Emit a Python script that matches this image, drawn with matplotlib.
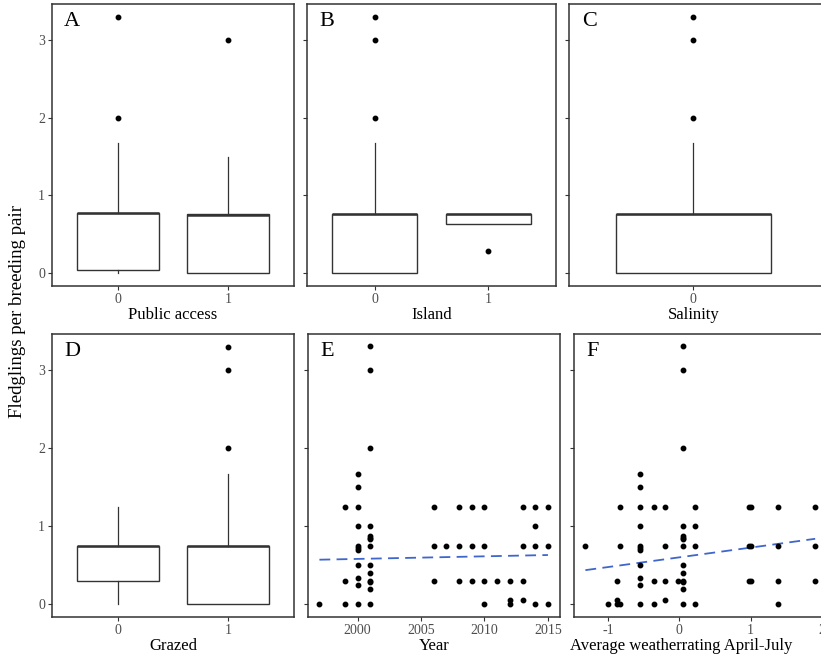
import matplotlib
matplotlib.use("Agg")
import matplotlib.pyplot as plt
import numpy as np

plt.rcParams['font.family'] = ['Liberation Serif', 'DejaVu Serif']
plt.rcParams['axes.unicode_minus'] = False

# ---------------- data ----------------
# Boxplot summary statistics
public_access_cats = ["0", "1"]
public_access_q1 = [0.04, 0.0]
public_access_med = [0.77, 0.75]
public_access_q3 = [0.77, 0.76]
public_access_lo = [0.0, 0.0]
public_access_hi = [1.67, 1.5]
public_access_out = [[2.0, 3.3], [3.0]]

island_cats = ["0", "1"]
island_q1 = [0.0, 0.63]
island_med = [0.76, 0.76]
island_q3 = [0.76, 0.76]
island_lo = [0.0, 0.63]
island_hi = [1.67, 0.76]
island_out = [[2.0, 3.0, 3.3], [0.29]]

salinity_cats = ["0"]
salinity_q1 = [0.0]
salinity_med = [0.76]
salinity_q3 = [0.76]
salinity_lo = [0.0]
salinity_hi = [1.67]
salinity_out = [[2.0, 3.0, 3.3]]

grazed_cats = ["0", "1"]
grazed_q1 = [0.30, 0.0]
grazed_med = [0.75, 0.75]
grazed_q3 = [0.75, 0.75]
grazed_lo = [0.0, 0.0]
grazed_hi = [1.25, 1.67]
grazed_out = [[], [2.0, 3.0, 3.3]]

# Year scatter
year_x = [1997,
          1999, 1999, 1999,
          2000, 2000, 2000, 2000, 2000, 2000, 2000, 2000, 2000, 2000, 2000,
          2001, 2001, 2001, 2001, 2001, 2001, 2001, 2001, 2001, 2001, 2001, 2001, 2001, 2001,
          2006, 2006, 2006,
          2007,
          2008, 2008, 2008,
          2009, 2009, 2009,
          2010, 2010, 2010, 2010,
          2011,
          2012, 2012, 2012,
          2013, 2013, 2013, 2013,
          2014, 2014, 2014, 2014,
          2015, 2015, 2015]
year_y = [0.0,
          1.25, 0.30, 0.0,
          1.675, 1.5, 1.25, 1.0, 0.75, 0.72, 0.70, 0.5, 0.33, 0.24, 0.0,
          3.31, 3.0, 2.0, 1.0, 0.87, 0.85, 0.83, 0.75, 0.5, 0.4, 0.3, 0.28, 0.2, 0.0,
          1.25, 0.75, 0.30,
          0.75,
          1.25, 0.75, 0.30,
          1.25, 0.75, 0.30,
          1.25, 0.75, 0.30, 0.0,
          0.30,
          0.30, 0.05, 0.0,
          1.25, 0.75, 0.30, 0.05,
          1.25, 1.0, 0.75, 0.0,
          1.25, 0.75, 0.0]
year_trend_x = [1997, 2015]
year_trend_y = [0.57, 0.63]

# Weather scatter
weather_x = [-1.32,
             -1.0,
             -0.87, -0.87, -0.87,
             -0.83, -0.83, -0.83,
             -0.55, -0.55, -0.55, -0.55, -0.55, -0.55, -0.55, -0.55, -0.55, -0.55, -0.55,
             -0.35, -0.35, -0.35,
             -0.20, -0.20, -0.20, -0.20,
             -0.015,
             0.05, 0.05, 0.05, 0.05, 0.05, 0.05, 0.05, 0.05, 0.05, 0.05, 0.05, 0.05, 0.05, 0.05,
             0.215, 0.215, 0.215, 0.215,
             0.98, 1.0, 0.98, 1.0, 0.98, 1.0,
             1.386, 1.386, 1.386, 1.386,
             1.906, 1.906, 1.906]
weather_y = [0.75,
             0.0,
             0.30, 0.05, 0.0,
             1.25, 0.75, 0.0,
             1.675, 1.5, 1.25, 1.0, 0.75, 0.72, 0.70, 0.5, 0.33, 0.24, 0.0,
             1.25, 0.30, 0.0,
             1.25, 0.75, 0.30, 0.05,
             0.30,
             3.31, 3.0, 2.0, 1.0, 0.87, 0.85, 0.83, 0.75, 0.5, 0.4, 0.3, 0.28, 0.2, 0.0,
             1.25, 1.0, 0.75, 0.0,
             1.25, 1.25, 0.75, 0.75, 0.30, 0.30,
             1.25, 0.75, 0.30, 0.0,
             1.25, 0.75, 0.30]
weather_trend_x = [-1.32, 1.906]
weather_trend_y = [0.436, 0.838]

y_ticks = [0, 1, 2, 3]

# ---------------- figure ----------------
W, H = 821, 656
fig = plt.figure(figsize=(W / 100, H / 100), dpi=100)

FRAME = '#333333'
TICKC = '#4D4D4D'
YLIM = (-0.165, 3.465)
MS = 3.2


def px_axes(x0, y0, x1, y1):
    return fig.add_axes([x0 / W, 1 - y1 / H, (x1 - x0) / W, (y1 - y0) / H])


def style(ax, letter, xlabel, show_ylabels):
    for s in ax.spines.values():
        s.set_color(FRAME)
        s.set_linewidth(1.1)
    ax.set_ylim(*YLIM)
    ax.set_yticks(y_ticks)
    ax.tick_params(axis='both', colors=FRAME, length=3, width=0.8,
                   labelcolor=TICKC, labelsize=10, pad=2)
    if not show_ylabels:
        ax.set_yticklabels([])
    ax.set_xlabel(xlabel, fontsize=12, labelpad=1)
    ax.text(0.05, 0.972, letter, transform=ax.transAxes, fontsize=16,
            va='top', ha='left')


def boxpanel(ax, cats, q1, med, q3, lo, hi, out, xlim):
    stats = []
    for i in range(len(cats)):
        stats.append(dict(q1=q1[i], med=med[i], q3=q3[i], whislo=lo[i],
                          whishi=hi[i], fliers=out[i], label=cats[i]))
    pos = list(range(1, len(cats) + 1))
    ax.bxp(stats, positions=pos, widths=0.75, showcaps=False,
           patch_artist=True,
           boxprops=dict(facecolor='white', edgecolor=FRAME, linewidth=1.0),
           whiskerprops=dict(color=FRAME, linewidth=0.9),
           medianprops=dict(color=FRAME, linewidth=1.8),
           flierprops=dict(marker='o', markerfacecolor='black',
                           markeredgecolor='black', markersize=MS))
    ax.set_xlim(*xlim)
    ax.set_xticks(pos)
    ax.set_xticklabels(cats)


axA = px_axes(52, 4, 294, 286)
boxpanel(axA, public_access_cats, public_access_q1, public_access_med,
         public_access_q3, public_access_lo, public_access_hi,
         public_access_out, (0.4, 2.6))
style(axA, 'A', 'Public access', True)

axB = px_axes(307, 4, 556, 286)
boxpanel(axB, island_cats, island_q1, island_med, island_q3, island_lo,
         island_hi, island_out, (0.4, 2.6))
style(axB, 'B', 'Island', False)

axC = px_axes(569, 4, 823, 286)
boxpanel(axC, salinity_cats, salinity_q1, salinity_med, salinity_q3,
         salinity_lo, salinity_hi, salinity_out, (0.4, 1.629))
style(axC, 'C', 'Salinity', False)
axC.xaxis.label.set_x(0.49)

axD = px_axes(52, 334, 294, 617)
boxpanel(axD, grazed_cats, grazed_q1, grazed_med, grazed_q3, grazed_lo,
         grazed_hi, grazed_out, (0.4, 2.6))
style(axD, 'D', 'Grazed', True)

axE = px_axes(308, 334, 560, 617)
axE.plot(year_x, year_y, 'o', color='black', markersize=MS, zorder=3)
axE.plot(year_trend_x, year_trend_y, color='#3F66CC', linewidth=1.3,
         dashes=(6, 3.5), zorder=2)
axE.set_xlim(1996.1, 2015.95)
axE.set_xticks([2000, 2005, 2010, 2015])
style(axE, 'E', 'Year', False)

axF = px_axes(574, 334, 824, 617)
axF.plot(weather_x, weather_y, 'o', color='black', markersize=MS, zorder=3)
axF.plot(weather_trend_x, weather_trend_y, color='#3F66CC', linewidth=1.3,
         dashes=(6, 3.5), zorder=2)
axF.set_xlim(-1.48, 2.03)
axF.set_xticks([-1, 0, 1, 2])
style(axF, 'F', 'Average weatherrating April-July', False)
axF.xaxis.label.set_x(0.43)

fig.text(18 / W, 1 - 311 / H, 'Fledglings per breeding pair', rotation=90,
         fontsize=13.6, ha='center', va='center')

fig.savefig('out.png', dpi=100)
